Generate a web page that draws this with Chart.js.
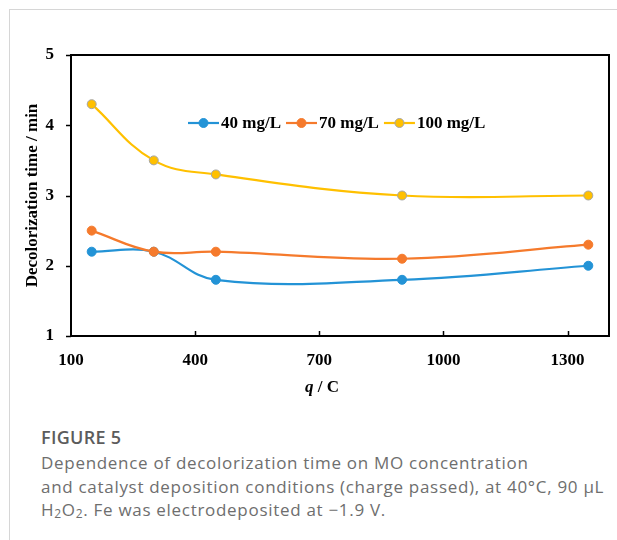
<!DOCTYPE html>
<html><head><meta charset="utf-8">
<script src="https://cdn.jsdelivr.net/npm/chart.js@4.4.0/dist/chart.umd.min.js"></script>
<style>
html,body{margin:0;padding:0;background:#fff;}
body{width:617px;height:540px;position:relative;overflow:hidden;}
#frameTop{position:absolute;left:9px;top:9px;width:608px;height:1px;background:#d6d6d6;}
#frameLeft{position:absolute;left:9px;top:9px;width:1px;height:531px;background:#d6d6d6;}
#wrap{position:absolute;left:0;top:0;width:617px;height:400px;}
#cap{position:absolute;left:41px;top:423px;width:576px;font-family:"Open Sans",sans-serif;color:#6e6e6e;font-size:17px;line-height:23.5px;letter-spacing:0.7px;white-space:nowrap;}
#cap .fig{font-weight:600;color:#5c5c5c;font-size:18px;line-height:28px;letter-spacing:0.3px;}
</style></head><body>
<div id="frameTop"></div><div id="frameLeft"></div>
<div id="wrap"><canvas id="c" width="617" height="400"></canvas></div>
<div id="cap"><div class="fig">FIGURE 5</div><div>Dependence of decolorization time on MO concentration<br>and catalyst deposition conditions (charge passed), at 40°C, 90 µL<br>H<sub style="font-size:12px;line-height:0;vertical-align:-2px">2</sub>O<sub style="font-size:12px;line-height:0;vertical-align:-2px">2</sub>. Fe was electrodeposited at −1.9 V.</div></div>
<script>
const xValues = [150, 300, 450, 900, 1350];
const series40 = [2.2, 2.2, 1.8, 1.8, 2.0];
const series70 = [2.5, 2.2, 2.2, 2.1, 2.3];
const series100 = [4.3, 3.5, 3.3, 3.0, 3.0];
const seriesLabels = ['40 mg/L', '70 mg/L', '100 mg/L'];
const xTicks = [100, 400, 700, 1000, 1300];
const yTicks = [1, 2, 3, 4, 5];
const xTitleItalic = 'q';
const xTitleRest = ' / C';
const yTitle = 'Decolorization time / min';

const serif = '"Liberation Serif", "Times New Roman", serif';
const toPts = arr => xValues.map((x, i) => ({x: x, y: arr[i]}));

const colors = [
  {line: '#2393d6', fill: '#2393d6', border: '#2393d6'},
  {line: '#f57a2c', fill: '#f57a2c', border: '#f57a2c'},
  {line: '#ffc000', fill: '#ffc000', border: '#a5a5a5'}
];
const seriesData = [series40, series70, series100];

const datasets = seriesData.map((s, i) => ({
  label: seriesLabels[i],
  data: toPts(s),
  borderColor: colors[i].line,
  backgroundColor: colors[i].fill,
  pointBackgroundColor: colors[i].fill,
  pointBorderColor: colors[i].border,
  pointBorderWidth: 1,
  pointRadius: 4.5,
  borderWidth: 2.2,
  tension: 0.4,
  order: 3 - i
}));

const framePlugin = {
  id: 'frame',
  afterDraw(chart) {
    const {ctx, chartArea: a, scales} = chart;
    ctx.save();
    ctx.strokeStyle = '#000';
    ctx.lineWidth = 1.5;
    xTicks.forEach(v => {
      const px = Math.round(scales.x.getPixelForValue(v)) + 0.5;
      if (px - a.left < 2) return;
      ctx.beginPath(); ctx.moveTo(px, a.bottom); ctx.lineTo(px, a.bottom - 5); ctx.stroke();
    });
    yTicks.forEach(v => {
      const py = Math.round(scales.y.getPixelForValue(v)) + 0.5;
      ctx.beginPath(); ctx.moveTo(a.left - 5, py); ctx.lineTo(a.left, py); ctx.stroke();
    });
    ctx.lineWidth = 2;
    ctx.strokeRect(a.left, a.top, a.right - a.left, a.bottom - a.top);

    const fItalic = 'italic bold 17px ' + serif;
    const fBold = 'bold 17px ' + serif;
    ctx.fillStyle = '#000';
    ctx.textBaseline = 'middle';
    ctx.font = fItalic; const w1 = ctx.measureText(xTitleItalic).width;
    ctx.font = fBold; const w2 = ctx.measureText(xTitleRest).width;
    const cx = 322, cy = 388;
    const sx = cx - (w1 + w2) / 2;
    ctx.textAlign = 'left';
    ctx.font = fItalic; ctx.fillText(xTitleItalic, sx, cy);
    ctx.font = fBold; ctx.fillText(xTitleRest, sx + w1, cy);

    let lx = 188; const ly = 123;
    chart.data.datasets.forEach((ds) => {
      ctx.strokeStyle = ds.borderColor; ctx.lineWidth = 2.2;
      ctx.beginPath(); ctx.moveTo(lx, ly); ctx.lineTo(lx + 31, ly); ctx.stroke();
      ctx.beginPath(); ctx.arc(lx + 15.5, ly, 4.5, 0, Math.PI * 2);
      ctx.fillStyle = ds.pointBackgroundColor; ctx.fill();
      ctx.strokeStyle = ds.pointBorderColor; ctx.lineWidth = 1; ctx.stroke();
      ctx.fillStyle = '#000'; ctx.font = fBold; ctx.textBaseline = 'middle';
      ctx.fillText(ds.label, lx + 33, ly + 1);
      lx += 33 + ctx.measureText(ds.label).width + 5;
    });
    ctx.restore();
  }
};

new Chart(document.getElementById('c'), {
  type: 'line',
  data: {datasets: datasets},
  options: {
    responsive: false,
    animation: false,
    devicePixelRatio: 1,
    layout: {padding: {top: 55, right: 8, left: 0, bottom: 0}},
    plugins: {legend: {display: false}, tooltip: {enabled: false}},
    scales: {
      x: {
        type: 'linear', min: 100, max: 1400,
        afterBuildTicks: s => { s.ticks = xTicks.map(v => ({value: v})); },
        afterFit: s => { s.height = 64; },
        grid: {display: false, drawTicks: false, tickLength: 0},
        border: {display: false},
        ticks: {color: '#000', padding: 14, font: {family: serif, size: 17, weight: 'bold'}, maxRotation: 0, autoSkip: false, callback: v => String(v)}
      },
      y: {
        type: 'linear', min: 1, max: 5,
        afterBuildTicks: s => { s.ticks = yTicks.map(v => ({value: v})); },
        afterFit: s => { s.width = 71; },
        grid: {display: false, drawTicks: false, tickLength: 0},
        border: {display: false},
        ticks: {color: '#000', padding: 17, font: {family: serif, size: 17, weight: 'bold'}, callback: v => String(v)},
        title: {display: true, text: yTitle, color: '#000', padding: {top: 22, bottom: 0}, font: {family: serif, size: 17, weight: 'bold'}}
      }
    }
  },
  plugins: [framePlugin]
});
</script>
</body></html>
